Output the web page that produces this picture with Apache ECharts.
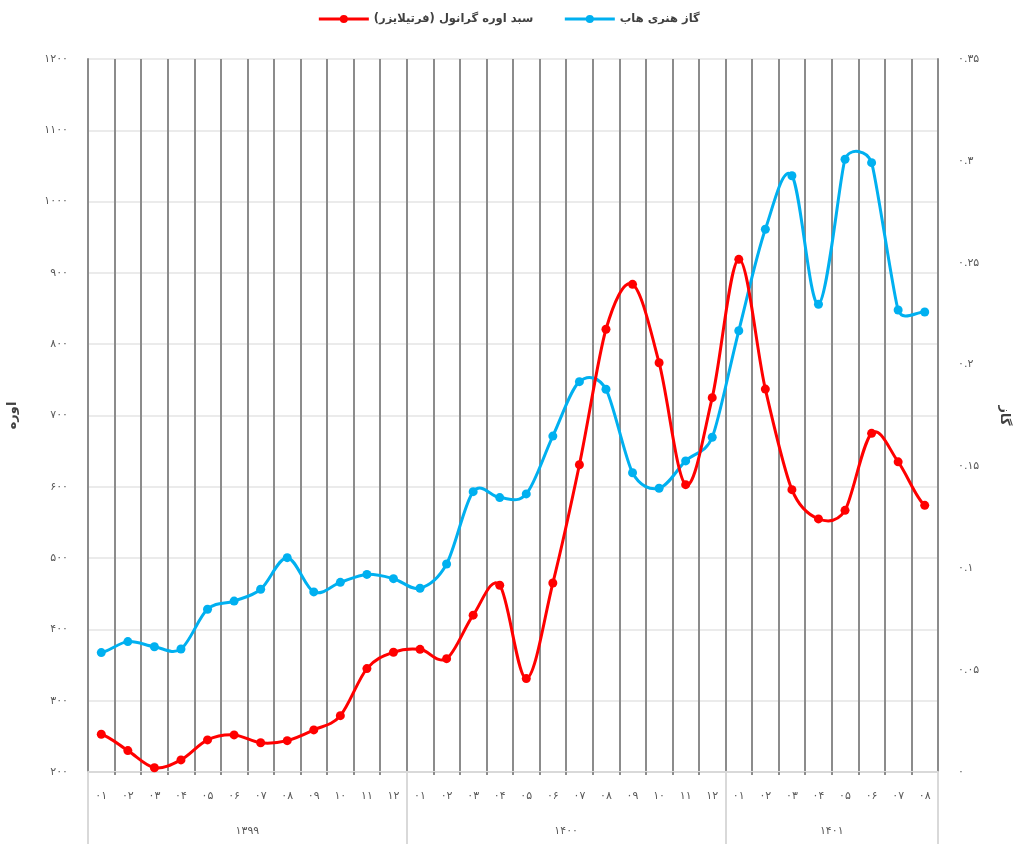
<!DOCTYPE html>
<html>
<head>
<meta charset="utf-8">
<script src="https://cdn.jsdelivr.net/npm/echarts@6/dist/echarts.min.js"></script>
<style>
  html, body { margin: 0; padding: 0; background: #fff; }
  #chart { width: 1017px; height: 844px; }
</style>
</head>
<body>
<div id="chart"></div>
<script>
const years = ['1399', '1400', '1401']
const monthsPerYear = [12, 12, 8]
const months = [
  '01', '02', '03', '04', '05', '06', '07', '08', '09', '10', '11', '12',
  '01', '02', '03', '04', '05', '06', '07', '08', '09', '10', '11', '12',
  '01', '02', '03', '04', '05', '06', '07', '08'
]
const ureaName = 'سبد اوره گرانول (فرتیلایزر)'
const gasName = 'گاز هنری هاب'
const ureaValues = [
  253, 230, 206, 217, 245, 252, 241, 244, 259, 279, 345, 368,
  372, 359, 420, 462, 331, 465, 631, 821, 884, 774, 603, 725,
  919, 737, 596, 555, 567, 675, 635, 574
]
const gasValues = [
  0.0586, 0.0640, 0.0615, 0.0604, 0.0799, 0.0839, 0.0897, 0.1052, 0.0884, 0.0931, 0.0970, 0.0949,
  0.0902, 0.1021, 0.1376, 0.1347, 0.1365, 0.1649, 0.1916, 0.1879, 0.1469, 0.1393, 0.1527, 0.1643,
  0.2166, 0.2664, 0.2927, 0.2296, 0.3008, 0.2991, 0.2268, 0.2258
]

const RED = '#ff0000'
const BLUE = '#00b0f0'
const FONT = 'DejaVu Sans'
const faDigits = '۰۱۲۳۴۵۶۷۸۹'
function fa(s) {
  return String(s).replace(/\d/g, d => faDigits[d])
}

// year group boundaries / centers in category units
const yearEdges = [0]
const yearCenters = []
monthsPerYear.forEach((n, i) => {
  yearCenters.push(yearEdges[i] + n / 2)
  yearEdges.push(yearEdges[i] + n)
})

// spreadsheet-like smoothing: tangent (next - prev) / 6, arm capped at half the shorter chord
function tangentArm(p0, p1, p2) {
  const dx = p2[0] - p0[0]
  const dy = p2[1] - p0[1]
  const d02 = Math.hypot(dx, dy)
  if (!d02) return [0, 0]
  const d01 = Math.hypot(p1[0] - p0[0], p1[1] - p0[1])
  const d12 = Math.hypot(p2[0] - p1[0], p2[1] - p1[1])
  let len = d02 / 6
  if (d01 > 0) len = Math.min(len, d01 / 2)
  if (d12 > 0) len = Math.min(len, d12 / 2)
  return [dx / d02 * len, dy / d02 * len]
}

function smoothSeries(values, color, yAxisIndex) {
  return {
    type: 'custom',
    yAxisIndex: yAxisIndex,
    silent: true,
    clip: false,
    z: 2,
    data: values.map((v, i) => [i, v]),
    encode: { x: 0, y: 1 },
    renderItem: (params, api) => {
      const i = params.dataIndex
      if (i >= values.length - 1) return null
      const pt = k => api.coord([k, values[Math.max(0, Math.min(values.length - 1, k))]])
      const a = pt(i - 1), b = pt(i), c = pt(i + 1), d = pt(i + 2)
      const t1 = tangentArm(a, b, c)
      const t2 = tangentArm(b, c, d)
      return {
        type: 'bezierCurve',
        shape: {
          x1: b[0], y1: b[1],
          cpx1: b[0] + t1[0], cpy1: b[1] + t1[1],
          cpx2: c[0] - t2[0], cpy2: c[1] - t2[1],
          x2: c[0], y2: c[1]
        },
        style: { stroke: color, lineWidth: 3, fill: null, lineCap: 'round' }
      }
    }
  }
}

function pointSeries(name, values, color, yAxisIndex) {
  return {
    name: name,
    type: 'line',
    yAxisIndex: yAxisIndex,
    data: values,
    symbol: 'circle',
    symbolSize: 9,
    itemStyle: { color: color },
    lineStyle: { color: color, width: 3, opacity: 0 },
    z: 4
  }
}

const chart = echarts.init(document.getElementById('chart'))

chart.setOption({
  animation: false,
  textStyle: { fontFamily: FONT },
  legend: {
    top: 8,
    left: 'center',
    itemWidth: 50,
    itemHeight: 10,
    itemGap: 30,
    textStyle: { fontFamily: FONT, fontSize: 11.5, fontWeight: 'bold', color: '#404040' },
    data: [
      { name: ureaName, lineStyle: { color: RED, width: 3, opacity: 1 } },
      { name: gasName, lineStyle: { color: BLUE, width: 3, opacity: 1 } }
    ]
  },
  grid: { left: 88, right: 79, top: 59, bottom: 72, containLabel: false, outerBoundsMode: 'none' },
  xAxis: [
    {
      type: 'category',
      data: months,
      boundaryGap: true,
      axisLine: { show: true, lineStyle: { color: '#d9d9d9', width: 2 } },
      axisTick: { show: true, length: 3, interval: 0, lineStyle: { color: '#8c8c8c', width: 2 } },
      axisLabel: { interval: 0, margin: 19, fontSize: 11, color: '#595959', fontFamily: FONT, formatter: v => fa(v) },
      splitLine: { show: true, interval: 0, lineStyle: { color: '#8c8c8c', width: 2 } }
    },
    {
      type: 'value',
      position: 'bottom',
      min: 0,
      max: months.length,
      axisLine: { show: false },
      splitLine: { show: false },
      axisTick: { show: true, customValues: yearEdges, length: 72, lineStyle: { color: '#d9d9d9', width: 2 } },
      axisLabel: {
        customValues: yearCenters,
        margin: 54,
        fontSize: 11,
        color: '#595959',
        fontFamily: FONT,
        formatter: v => fa(years[yearCenters.indexOf(v)] || '')
      }
    }
  ],
  yAxis: [
    {
      type: 'value',
      min: 200,
      max: 1200,
      interval: 100,
      name: 'اوره',
      nameLocation: 'middle',
      nameGap: 69,
      nameTextStyle: { fontFamily: FONT, fontSize: 13, fontWeight: 'bold', color: '#404040' },
      axisLine: { show: true, lineStyle: { color: '#8c8c8c', width: 2 } },
      axisTick: { show: false },
      axisLabel: { margin: 20, fontSize: 11, color: '#595959', fontFamily: FONT, formatter: v => fa(v) },
      splitLine: { show: true, lineStyle: { color: '#ebebeb', width: 2 } }
    },
    {
      type: 'value',
      min: 0,
      max: 0.35,
      interval: 0.05,
      name: 'گاز',
      nameLocation: 'middle',
      nameGap: 60,
      nameRotate: -90,
      nameTextStyle: { fontFamily: FONT, fontSize: 13, fontWeight: 'bold', color: '#404040' },
      axisLine: { show: true, lineStyle: { color: '#8c8c8c', width: 2 } },
      axisTick: { show: false },
      axisLabel: {
        margin: 20, fontSize: 11, color: '#595959', fontFamily: FONT,
        formatter: v => fa(String(Number(v.toFixed(2))))
      },
      splitLine: { show: false }
    }
  ],
  series: [
    smoothSeries(gasValues, BLUE, 1),
    smoothSeries(ureaValues, RED, 0),
    pointSeries(ureaName, ureaValues, RED, 0),
    pointSeries(gasName, gasValues, BLUE, 1)
  ]
})
</script>
</body>
</html>
